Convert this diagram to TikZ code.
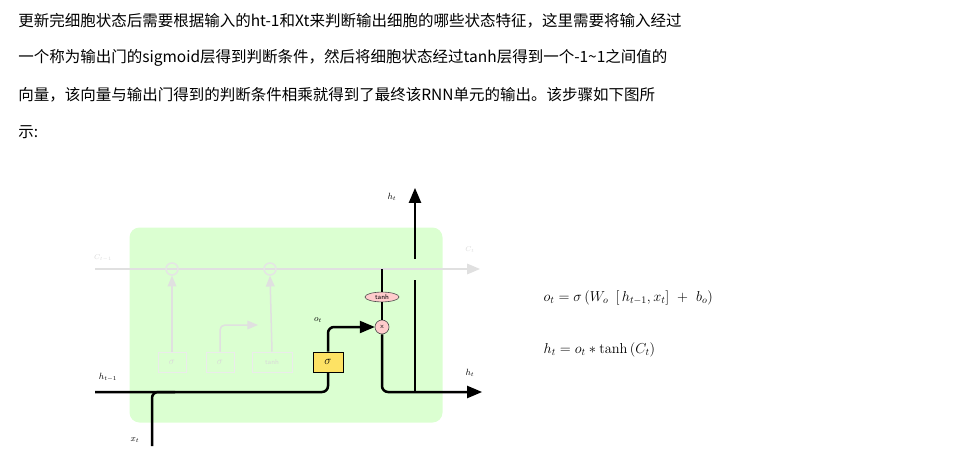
\documentclass[tikz,border=0pt]{standalone}
\usepackage{fontspec}
\usepackage{amsmath}
\newfontfamily\cjk{Noto Sans CJK SC}
\usetikzlibrary{positioning}
\usetikzlibrary{arrows}
\usetikzlibrary{shapes.geometric}

\begin{document}
\begin{tikzpicture}[x=1pt,y=-1pt,>=triangle 45,semithick]
	\useasboundingbox (0,0) rectangle (971,465);
	\tikzset{line/.style={text=black,font=\cjk\fontsize{15.5}{18}\selectfont,anchor=west,inner sep=0pt}}
	\node [line] at (18,21) (l1) {更新完细胞状态后需要根据输入的ht-1和Xt来判断输出细胞的哪些状态特征，这里需要将输入经过};
	\node [line] at (18,58) (l2) {一个称为输出门的sigmoid层得到判断条件，然后将细胞状态经过tanh层得到一个-1\textasciitilde 1之间值的};
	\node [line] at (18,95) (l3) {向量，该向量与输出门得到的判断条件相乘就得到了最终该RNN单元的输出。该步骤如下图所};
	\node [line] at (18,132) (l4) {示:};

	% cell background
	\node [minimum width=313pt,minimum height=195pt,rounded corners=10pt,fill=green!70!lime!18,inner sep=0pt] at (286,325) (cell) {};
	\coordinate (cin) at (95,269);
	\coordinate (cout) at (480,269);
	\draw[->,line width=2pt,black!12] (cin) -- (cout);
	\node [font=\scriptsize,text=black!15] at (103,258) (ctm) {$C_{t-1}$};
	\node [font=\scriptsize,text=black!15] at (470,250) (ct) {$C_t$};
	\node [circle,draw=black!10,minimum size=12pt,line width=1.5pt] at (172,269) (m1) {};
	\node [circle,draw=black!10,minimum size=12pt,line width=1.5pt] at (270,269) (p1) {};
	\node [minimum width=28pt,minimum height=20pt,draw=black!8,line width=1pt,text=black!15] at (172,362) (g1) {$\sigma$};
	\node [minimum width=28pt,minimum height=20pt,draw=black!8,line width=1pt,text=black!15] at (220,362) (g2) {$\sigma$};
	\node [minimum width=40pt,minimum height=20pt,draw=black!8,line width=1pt,text=black!15,font=\scriptsize\sffamily] at (272,362) (g3) {tanh};
	\draw[->,line width=1.5pt,black!12] (g1.north) -- (m1.south);
	\draw[->,line width=1.5pt,black!12] (g3.north) -- (p1.south);
	\draw[->,line width=1.5pt,black!12,rounded corners=5pt] (g2.north) |- (258,325);

	% output gate
	\node [minimum width=30pt,minimum height=20pt,draw=black,fill=yellow!70!orange!60,line width=1pt,font=\large] at (328,362) (sig) {$\sigma$};
	\node [ellipse,draw=black!70,fill=red!20,font=\scriptsize\sffamily,inner sep=1pt,minimum width=34pt] at (382,297) (tanh) {tanh};
	\node [circle,draw=black!70,fill=red!20,font=\scriptsize\sffamily,inner sep=1pt,minimum size=14pt] at (382,327) (mul) {x};
	\coordinate (hin) at (95,392);
	\coordinate (xin) at (152,446);
	\coordinate (hout) at (482,392);
	\coordinate (hup) at (415,188);
	\draw[line width=2.5pt,rounded corners=6pt] (hin) -- (328,392) -- (sig.south);
	\draw[line width=2.5pt,rounded corners=6pt] (xin) |- (175,392);
	\draw[->,line width=2.5pt,rounded corners=6pt] (sig.north) |- (mul.west);
	\draw[line width=2pt] (mul.north) -- (tanh.south);
	\draw[line width=2pt] (tanh.north) -- (382,269);
	\draw[->,line width=2.5pt,rounded corners=6pt] (mul.south) |- (hout);
	\draw[line width=2.5pt] (415,392) -- (415,280);
	\draw[->,line width=2.5pt] (415,259) -- (hup);
	\node [font=\small] at (108,377) (lh) {$h_{t-1}$};
	\node [font=\small] at (135,440) (lx) {$x_t$};
	\node [font=\small] at (318,320) (lo) {$o_t$};
	\node [font=\small] at (470,373) (lht) {$h_t$};
	\node [font=\small] at (392,197) (lhu) {$h_t$};

	% equations
	\node [anchor=west,font=\Large] at (540,298) (eq1) {$o_t=\sigma\left(W_o\ \left[\,h_{t-1},x_t\right]\ +\ b_o\right)$};
	\node [anchor=west,font=\Large] at (540,350) (eq2) {$h_t=o_t*\tanh\left(C_t\right)$};
\end{tikzpicture}
\end{document}
